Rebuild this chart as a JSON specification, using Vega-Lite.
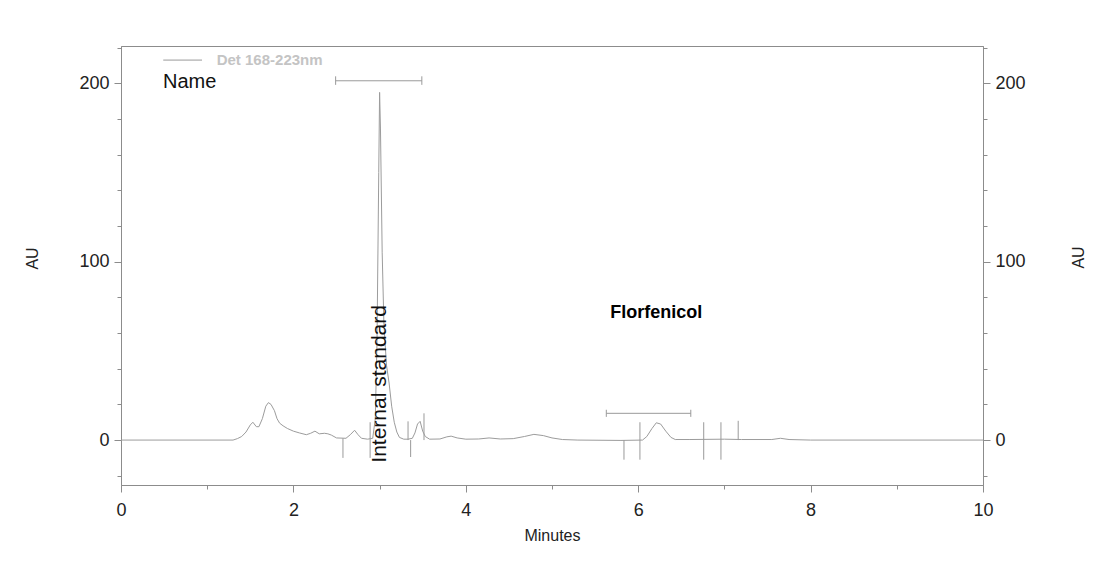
{
  "$schema": "https://vega.github.io/schema/vega-lite/v6.json",
  "width": 862,
  "height": 439,
  "autosize": "none",
  "padding": {"left": 121, "top": 46, "right": 117, "bottom": 82},
  "background": "white",
  "config": {
    "view": {"stroke": "#8c8c8c", "strokeWidth": 1},
    "axis": {
      "grid": false,
      "domainColor": "#8c8c8c",
      "tickColor": "#8c8c8c",
      "labelFont": "Liberation Sans",
      "labelFontSize": 18,
      "labelColor": "#222222",
      "titleFont": "Liberation Sans",
      "titleFontSize": 16,
      "titleFontWeight": "normal",
      "titleColor": "#222222",
      "labelFlush": false,
      "labelOverlap": false
    }
  },
  "datasets": {
    "trace": [
      {"t": 0, "au": 0}, {"t": 1.3, "au": 0}, {"t": 1.35, "au": 0.8}, {"t": 1.4, "au": 2},
      {"t": 1.45, "au": 4.5}, {"t": 1.5, "au": 8.5}, {"t": 1.53, "au": 10}, {"t": 1.57, "au": 7.5},
      {"t": 1.6, "au": 7.5}, {"t": 1.64, "au": 12}, {"t": 1.68, "au": 19}, {"t": 1.71, "au": 21},
      {"t": 1.74, "au": 20}, {"t": 1.78, "au": 16.5}, {"t": 1.81, "au": 12}, {"t": 1.84, "au": 9.5},
      {"t": 1.88, "au": 8}, {"t": 1.93, "au": 6.5}, {"t": 2.0, "au": 5}, {"t": 2.07, "au": 4},
      {"t": 2.15, "au": 3}, {"t": 2.2, "au": 3.8}, {"t": 2.25, "au": 5}, {"t": 2.3, "au": 3.5},
      {"t": 2.36, "au": 3.8}, {"t": 2.4, "au": 3.5}, {"t": 2.44, "au": 2.8}, {"t": 2.5, "au": 1.2},
      {"t": 2.61, "au": 1}, {"t": 2.66, "au": 3}, {"t": 2.71, "au": 5.5}, {"t": 2.75, "au": 3},
      {"t": 2.79, "au": 1}, {"t": 2.86, "au": 0.5}, {"t": 2.92, "au": 1}, {"t": 2.95, "au": 12},
      {"t": 2.97, "au": 55}, {"t": 2.99, "au": 150}, {"t": 3.0, "au": 195}, {"t": 3.01, "au": 175},
      {"t": 3.03, "au": 105}, {"t": 3.05, "au": 65}, {"t": 3.08, "au": 42}, {"t": 3.11, "au": 32},
      {"t": 3.14, "au": 19}, {"t": 3.17, "au": 10}, {"t": 3.2, "au": 4.5}, {"t": 3.23, "au": 1.5},
      {"t": 3.28, "au": 0.5}, {"t": 3.33, "au": 0.5}, {"t": 3.38, "au": 1}, {"t": 3.41, "au": 4},
      {"t": 3.44, "au": 9}, {"t": 3.47, "au": 10.5}, {"t": 3.5, "au": 5}, {"t": 3.53, "au": 2},
      {"t": 3.58, "au": 0.5}, {"t": 3.7, "au": 0.6}, {"t": 3.78, "au": 1.8}, {"t": 3.83, "au": 2.2},
      {"t": 3.9, "au": 1.2}, {"t": 4.0, "au": 0.5}, {"t": 4.15, "au": 0.6}, {"t": 4.27, "au": 1.2},
      {"t": 4.4, "au": 0.6}, {"t": 4.55, "au": 0.8}, {"t": 4.68, "au": 2}, {"t": 4.79, "au": 3.2},
      {"t": 4.9, "au": 2.5}, {"t": 5.0, "au": 1.2}, {"t": 5.12, "au": 0.3}, {"t": 5.3, "au": 0},
      {"t": 5.8, "au": -0.2}, {"t": 6.05, "au": 0}, {"t": 6.1, "au": 2}, {"t": 6.16, "au": 6.5},
      {"t": 6.21, "au": 9.7}, {"t": 6.26, "au": 9}, {"t": 6.32, "au": 5}, {"t": 6.38, "au": 1.5},
      {"t": 6.43, "au": 0.3}, {"t": 6.6, "au": 0.3}, {"t": 7.0, "au": 0.5}, {"t": 7.2, "au": 0.3},
      {"t": 7.55, "au": 0.3}, {"t": 7.65, "au": 1}, {"t": 7.75, "au": 0.3}, {"t": 8.0, "au": 0},
      {"t": 10, "au": 0}
    ],
    "markers": [
      {"t": 2.575, "top": 1, "bottom": -10},
      {"t": 2.89, "top": 10, "bottom": -10},
      {"t": 3.33, "top": 10.5, "bottom": 0},
      {"t": 3.36, "top": 0, "bottom": -9.5},
      {"t": 3.515, "top": 15, "bottom": 0},
      {"t": 5.835, "top": 0, "bottom": -11},
      {"t": 6.02, "top": 10, "bottom": -11},
      {"t": 6.76, "top": 10, "bottom": -11},
      {"t": 6.96, "top": 10, "bottom": -11},
      {"t": 7.16, "top": 10.8, "bottom": 0}
    ],
    "windows": [
      {"start": 2.49, "end": 3.49, "level": 201.5, "capTop": 204, "capBottom": 199.2},
      {"start": 5.63, "end": 6.61, "level": 15, "capTop": 17, "capBottom": 13}
    ]
  },
  "resolve": {"axis": {"x": "independent", "y": "independent"}},
  "layer": [
    {
      "data": {"name": "trace"},
      "mark": {"type": "line", "color": "#9c9c9c", "strokeWidth": 1, "clip": true},
      "encoding": {
        "x": {"field": "t", "type": "quantitative",
          "scale": {"domain": [0, 10], "nice": false, "zero": false},
          "axis": {"orient": "bottom", "values": [0, 2, 4, 6, 8, 10], "tickSize": 7, "labelPadding": 9,
            "title": "Minutes", "titleX": 431, "titleY": 50, "titleBaseline": "middle", "titleAlign": "center"}},
        "y": {"field": "au", "type": "quantitative",
          "scale": {"domain": [-25.2, 221], "nice": false, "zero": false},
          "axis": {"orient": "left", "values": [0, 100, 200], "tickSize": 7, "labelPadding": 5,
            "title": "AU", "titleAngle": 270, "titleX": -89, "titleY": 212, "titleAlign": "center", "titleBaseline": "middle"}}
      }
    },
    {
      "data": {"name": "markers"},
      "mark": {"type": "rule", "color": "#9a9a9a", "strokeWidth": 1},
      "encoding": {
        "x": {"field": "t", "type": "quantitative",
          "axis": {"orient": "bottom", "values": [1, 3, 5, 7, 9], "tickSize": 4, "labels": false, "domain": false, "title": null}},
        "y": {"field": "top", "type": "quantitative",
          "axis": {"orient": "right", "values": [0, 100, 200], "tickSize": 7, "labelPadding": 5,
            "title": "AU", "titleAngle": 270, "titleX": 95, "titleY": 211, "titleAlign": "center", "titleBaseline": "middle"}},
        "y2": {"field": "bottom"}
      }
    },
    {
      "data": {"name": "windows"},
      "mark": {"type": "rule", "color": "#9a9a9a", "strokeWidth": 1},
      "encoding": {
        "x": {"field": "start", "type": "quantitative", "axis": null},
        "x2": {"field": "end"},
        "y": {"field": "level", "type": "quantitative",
          "axis": {"orient": "right", "values": [-20, 20, 40, 60, 80, 120, 140, 160, 180, 220], "tickSize": 4, "labels": false, "domain": false, "title": null}}
      }
    },
    {
      "data": {"name": "windows"},
      "mark": {"type": "rule", "color": "#9a9a9a", "strokeWidth": 1},
      "encoding": {
        "x": {"field": "start", "type": "quantitative", "axis": null},
        "y": {"field": "capTop", "type": "quantitative",
          "axis": {"orient": "left", "values": [-20, 20, 40, 60, 80, 120, 140, 160, 180, 220], "tickSize": 4, "labels": false, "domain": false, "title": null}},
        "y2": {"field": "capBottom"}
      }
    },
    {
      "data": {"name": "windows"},
      "mark": {"type": "rule", "color": "#9a9a9a", "strokeWidth": 1},
      "encoding": {
        "x": {"field": "end", "type": "quantitative", "axis": null},
        "y": {"field": "capTop", "type": "quantitative", "axis": null},
        "y2": {"field": "capBottom"}
      }
    },
    {
      "data": {"values": [{"x1": 5.44, "x2": 7.0, "y1": 24, "y2": 87}]},
      "mark": {"type": "rect", "color": "white"},
      "encoding": {
        "x": {"field": "x1", "type": "quantitative", "axis": null},
        "x2": {"field": "x2"},
        "y": {"field": "y1", "type": "quantitative", "axis": null},
        "y2": {"field": "y2"}
      }
    },
    {
      "data": {"values": [{"x1": 0.49, "x2": 0.94, "y": 213.1}]},
      "mark": {"type": "rule", "color": "#9a9a9a", "strokeWidth": 1},
      "encoding": {
        "x": {"field": "x1", "type": "quantitative", "axis": null},
        "x2": {"field": "x2"},
        "y": {"field": "y", "type": "quantitative", "axis": null}
      }
    },
    {
      "data": {"values": [{"t": 1.11, "au": 213.1, "label": "Det 168-223nm"}]},
      "mark": {"type": "text", "align": "left", "baseline": "middle", "font": "Liberation Sans", "fontSize": 15, "fontWeight": "bold", "color": "#c4c4c4"},
      "encoding": {
        "x": {"field": "t", "type": "quantitative", "axis": null},
        "y": {"field": "au", "type": "quantitative", "axis": null},
        "text": {"field": "label"}
      }
    },
    {
      "data": {"values": [{"t": 0.487, "au": 197.6, "label": "Name"}]},
      "mark": {"type": "text", "align": "left", "baseline": "alphabetic", "font": "Liberation Sans", "fontSize": 20, "color": "#111111"},
      "encoding": {
        "x": {"field": "t", "type": "quantitative", "axis": null},
        "y": {"field": "au", "type": "quantitative", "axis": null},
        "text": {"field": "label"}
      }
    },
    {
      "data": {"values": [{"t": 3.01, "au": 31.5, "label": "Internal standard"}]},
      "mark": {"type": "text", "align": "center", "baseline": "middle", "angle": 270, "font": "Liberation Sans", "fontSize": 21, "color": "#111111"},
      "encoding": {
        "x": {"field": "t", "type": "quantitative", "axis": null},
        "y": {"field": "au", "type": "quantitative", "axis": null},
        "text": {"field": "label"}
      }
    },
    {
      "data": {"values": [{"t": 6.21, "au": 68.4, "label": "Florfenicol"}]},
      "mark": {"type": "text", "align": "center", "baseline": "alphabetic", "font": "Liberation Sans", "fontSize": 18, "fontWeight": "bold", "color": "#000000"},
      "encoding": {
        "x": {"field": "t", "type": "quantitative", "axis": null},
        "y": {"field": "au", "type": "quantitative", "axis": null},
        "text": {"field": "label"}
      }
    }
  ]
}
